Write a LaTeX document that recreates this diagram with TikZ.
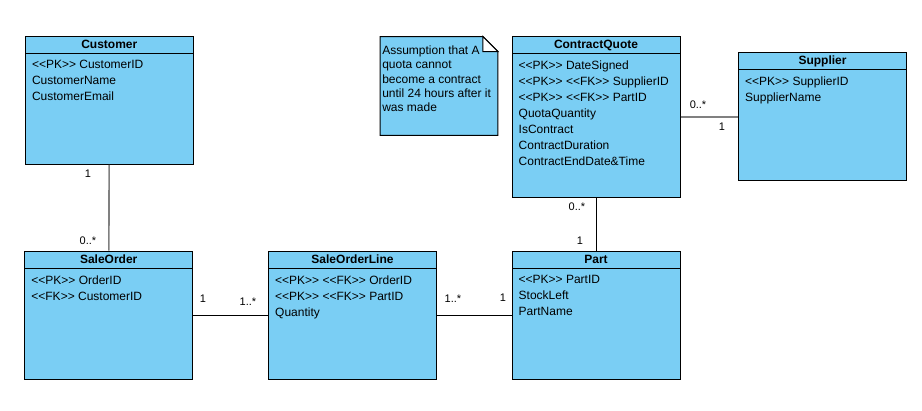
\documentclass[tikz,border=0pt]{standalone}
\usepackage{fontspec}
\setmainfont{Liberation Sans}
\usetikzlibrary{positioning}

\definecolor{classblue}{RGB}{122,206,244}
\definecolor{linkgray}{RGB}{128,128,128}

\tikzset{
  classbox/.style={draw, fill=classblue, minimum width=168pt, inner sep=0pt, line width=1pt},
  classtitle/.style={draw, fill=classblue, minimum width=168pt, minimum height=17pt, inner sep=0pt,
    anchor=north, line width=1pt, font=\fontsize{12}{14}\selectfont\bfseries},
  attrlist/.style={inner sep=0pt, align=left, font=\fontsize{12}{16}\selectfont},
  notetext/.style={inner sep=0pt, align=left, font=\fontsize{12}{14.25}\selectfont},
  mult/.style={inner sep=0pt, font=\fontsize{11}{13}\selectfont},
  link/.style={draw, line width=1pt},
  graylink/.style={draw=linkgray, line width=1.6pt}
}

\begin{document}
\begin{tikzpicture}[x=1pt, y=-1pt]
                \useasboundingbox (0,0) rectangle (922,411);

                % クラスの箱を描画
                \node[classbox, minimum height=128pt] (customer) at (109.3,100.3) {};
                \node[classbox, minimum height=128pt] (saleorder) at (108.7,315.2) {};
                \node[classbox, minimum height=128pt] (orderline) at (352.5,315.2) {};
                \node[classbox, minimum height=128pt] (part) at (596,315.2) {};
                \node[classbox, minimum height=160.6pt] (quote) at (596,117) {};
                \node[classbox, minimum height=128pt] (supplier) at (822.5,117) {};

                % 見出しの帯
                \node[classtitle] (customerT) at (customer.north) {Customer};
                \node[classtitle] (saleorderT) at (saleorder.north) {SaleOrder};
                \node[classtitle] (orderlineT) at (orderline.north) {SaleOrderLine};
                \node[classtitle] (partT) at (part.north) {Part};
                \node[classtitle] (quoteT) at (quote.north) {ContractQuote};
                \node[classtitle] (supplierT) at (supplier.north) {Supplier};

                % 属性の一覧
                \node[attrlist, below right=24.5pt and 7pt of customer.north west] (customerA)
                    {<{}<PK>{}> CustomerID\\CustomerName\\CustomerEmail};
                \node[attrlist, below right=24.5pt and 7pt of saleorder.north west] (saleorderA)
                    {<{}<PK>{}> OrderID\\<{}<FK>{}> CustomerID};
                \node[attrlist, below right=24.5pt and 7pt of orderline.north west] (orderlineA)
                    {<{}<PK>{}> <{}<FK>{}> OrderID\\<{}<PK>{}> <{}<FK>{}> PartID\\Quantity};
                \node[attrlist, below right=24.5pt and 7pt of part.north west] (partA)
                    {<{}<PK>{}> PartID\\StockLeft\\PartName};
                \node[attrlist, below right=24.5pt and 7pt of quote.north west] (quoteA)
                    {<{}<PK>{}> DateSigned\\<{}<PK>{}> <{}<FK>{}> SupplierID\\<{}<PK>{}> <{}<FK>{}> PartID\\
                     QuotaQuantity\\IsContract\\ContractDuration\\ContractEndDate\&Time};
                \node[attrlist, below right=24.5pt and 7pt of supplier.north west] (supplierA)
                    {<{}<PK>{}> SupplierID\\SupplierName};

                % メモ(右上を折った紙)
                \node[minimum width=117.5pt, minimum height=98.3pt, inner sep=0pt] (note) at (439,86) {};
                \draw[fill=classblue, line width=1pt] (note.north west) -- ([xshift=-15pt]note.north east)
                    -- ([yshift=-15pt]note.north east) -- (note.south east) -- (note.south west) -- cycle;
                \draw[fill=white, line width=1pt] ([xshift=-15pt]note.north east)
                    -- ([xshift=-15pt, yshift=-15pt]note.north east) -- ([yshift=-15pt]note.north east) -- cycle;
                \node[notetext, below right=9pt and 2pt of note.north west] (noteA)
                    {Assumption that A\\quota cannot\\become a contract\\until 24 hours after it\\was made};

                % 関連の線
                \draw[graylink] (customer) -- (saleorder);
                \draw[link] (saleorder) -- (orderline);
                \draw[link] (orderline) -- (part);
                \draw[link] (quote) -- (part);
                \draw[graylink] (quote) -- (supplier);

                % 多重度
                \node[mult] (m1) at (88,174) {1};
                \node[mult] (m2) at (88,241) {0..*};
                \node[mult] (m3) at (203,299) {1};
                \node[mult] (m4) at (248,302) {1..*};
                \node[mult] (m5) at (453,299) {1..*};
                \node[mult] (m6) at (503,298) {1};
                \node[mult] (m7) at (577,207) {0..*};
                \node[mult] (m8) at (580,241) {1};
                \node[mult] (m9) at (698,105) {0..*};
                \node[mult] (m10) at (722,127) {1};
            \end{tikzpicture}
\end{document}
